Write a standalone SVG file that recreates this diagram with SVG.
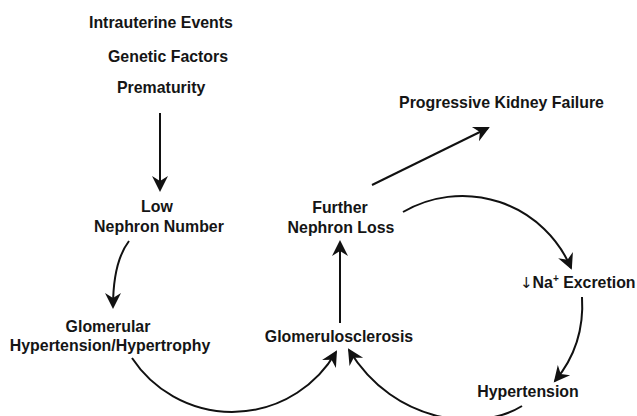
<svg xmlns="http://www.w3.org/2000/svg" width="637" height="416" viewBox="0 0 637 416">
<style>
text{font-family:"Liberation Sans",Arial,Helvetica,sans-serif;font-weight:bold;font-size:15.9px;fill:#151515}
.c{text-anchor:middle}
.ln{fill:none;stroke:#111;stroke-width:2}
</style>
<defs>
<marker id="ah" markerUnits="userSpaceOnUse" viewBox="-17 -10 20 20" markerWidth="20" markerHeight="20" refX="0" refY="0" orient="auto" overflow="visible">
<path d="M2,0 L-14,-8 L-9,0 L-14,8 Z" fill="#111"/>
</marker>
</defs>
<rect width="637" height="416" fill="#fff"/>
<g id="causes">
<text x="89" y="28">Intrauterine Events</text>
<text x="108" y="62">Genetic Factors</text>
<text x="117" y="93">Prematurity</text>
</g>
<g id="low-nephron">
<text class="c" x="157" y="212">Low</text>
<text class="c" x="159" y="232">Nephron Number</text>
</g>
<g id="glomerular-hypertension">
<text class="c" x="108" y="332">Glomerular</text>
<text class="c" x="110" y="351">Hypertension/Hypertrophy</text>
</g>
<g id="glomerulosclerosis">
<text class="c" x="339" y="342">Glomerulosclerosis</text>
</g>
<g id="further-loss">
<text class="c" x="340" y="213">Further</text>
<text class="c" x="341" y="233">Nephron Loss</text>
</g>
<g id="kidney-failure">
<text class="c" x="501.5" y="108">Progressive Kidney Failure</text>
</g>
<g id="na-excretion">
<text x="520" y="288"><tspan font-family="'DejaVu Sans',sans-serif" font-weight="normal" font-size="15">↓</tspan>Na<tspan font-size="10" dy="-6">+</tspan><tspan dy="6"> Excretion</tspan></text>
</g>
<g id="hypertension">
<text class="c" x="528" y="397">Hypertension</text>
</g>
<g id="connectors">
<path class="ln" marker-end="url(#ah)" d="M160,113 L160,190"/>
<path class="ln" marker-end="url(#ah)" d="M129,241 Q113,262 113,307"/>
<path class="ln" marker-end="url(#ah)" d="M132,358 A120,120 0 0 0 336,352"/>
<path class="ln" marker-end="url(#ah)" d="M340,323 L340,242"/>
<path class="ln" marker-end="url(#ah)" d="M372,185 L488,128"/>
<path class="ln" marker-end="url(#ah)" d="M403,212 A118,118 0 0 1 571,268"/>
<path class="ln" marker-end="url(#ah)" d="M582,297 Q585,345 555,381"/>
<path class="ln" marker-end="url(#ah)" d="M522,406 C480,432 395,425 349,350"/>
</g>
</svg>
